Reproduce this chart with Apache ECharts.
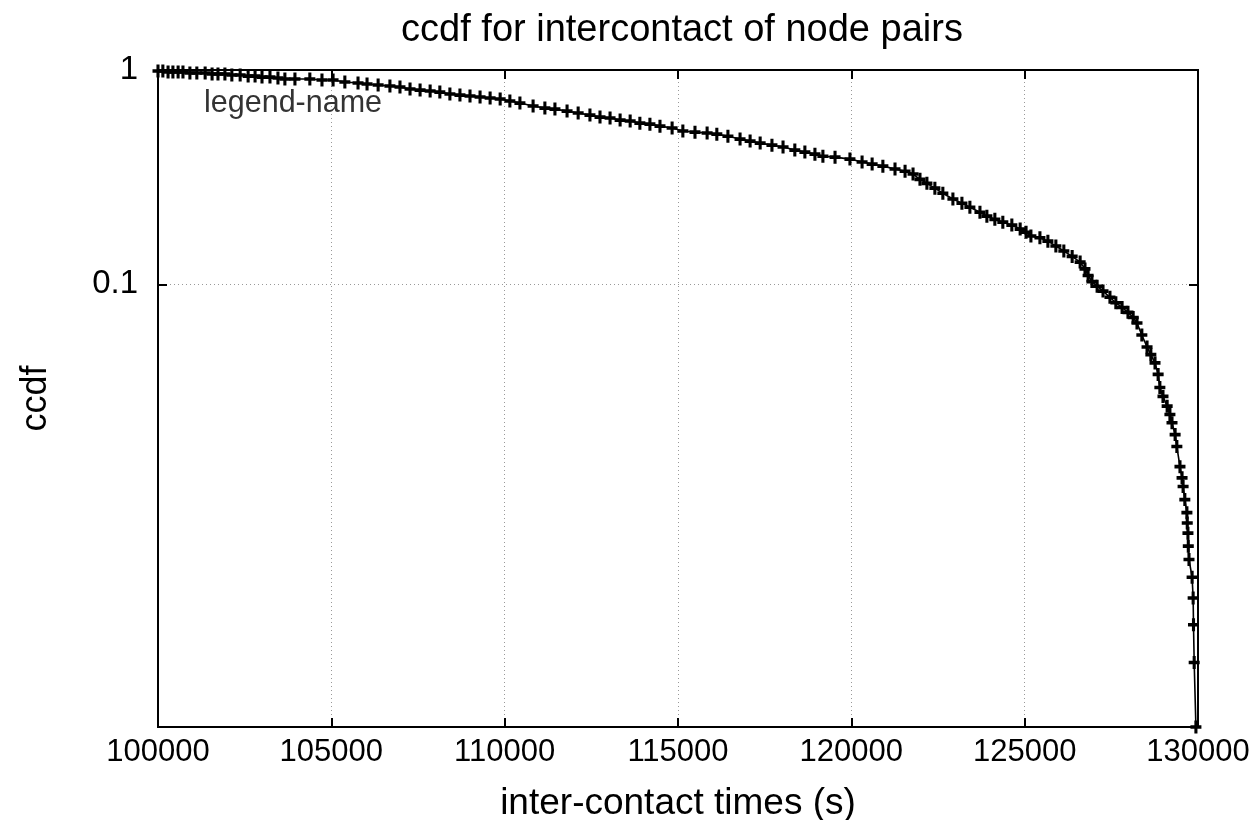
<!DOCTYPE html>
<html>
<head>
<meta charset="utf-8">
<script src="https://cdn.jsdelivr.net/npm/echarts@6/dist/echarts.min.js"></script>
<style>html,body{margin:0;padding:0;background:#fff;}#chart{width:1257px;height:820px;}</style>
</head>
<body>
<div id="chart"></div>
<script>
// inter-contact times (s)
const times = [
100000,100140,100290,100430,100580,100720,100920,101120,101360,101560,
101730,101930,102130,102370,102600,102800,103000,103230,103460,103660,
103950,104380,104730,105050,105390,105770,106030,106350,106690,106980,
107270,107560,107850,108130,108420,108710,109000,109290,109580,109870,
110150,110440,110820,111160,111450,111800,112120,112460,112750,113040,
113330,113620,113900,114190,114480,114830,115140,115490,115840,116120,
116440,116790,117080,117370,117710,118030,118370,118660,118950,119180,
119530,119960,120310,120600,120910,121260,121550,121780,121980,122180,
122410,122640,122930,123190,123420,123710,123910,124140,124370,124630,
124870,125040,125180,125440,125670,125900,126130,126370,126600,126740,
126830,126940,127090,127260,127460,127630,127810,127980,128130,128240,
128380,128530,128640,128760,128850,128900,128990,129110,129190,129250,
129340,129390,129480,129540,129570,129620,129680,129690,129710,129720,
129740,129830,129860,129870,129890,129940
];
// ccdf values
const ccdf = [
0.989,0.989,0.979,0.979,0.979,0.979,0.968,0.968,0.968,0.958,
0.958,0.958,0.948,0.948,0.937,0.937,0.927,0.927,0.918,0.908,
0.908,0.908,0.898,0.898,0.879,0.870,0.860,0.851,0.842,0.833,
0.815,0.806,0.798,0.789,0.773,0.764,0.756,0.748,0.740,0.732,
0.717,0.701,0.679,0.664,0.657,0.643,0.630,0.616,0.603,0.597,
0.584,0.578,0.565,0.559,0.547,0.536,0.519,0.513,0.508,0.502,
0.491,0.476,0.466,0.456,0.446,0.437,0.423,0.414,0.405,0.396,
0.392,0.384,0.372,0.364,0.356,0.345,0.337,0.327,0.309,0.296,
0.281,0.266,0.250,0.239,0.229,0.217,0.208,0.201,0.195,0.189,
0.181,0.175,0.168,0.165,0.159,0.151,0.143,0.135,0.127,0.118,
0.110,0.103,0.098,0.093,0.087,0.082,0.078,0.074,0.070,0.066,
0.058,0.051,0.047,0.043,0.038,0.033,0.030,0.027,0.0247,0.0226,
0.0199,0.0175,0.0141,0.0125,0.0114,0.0099,0.0086,0.0077,0.0069,0.0060,
0.0052,0.0043,0.00344,0.00258,0.00172,0.00086
];
const xTicks = [100000,105000,110000,115000,120000,125000,130000];
const yTicks = [0.1, 1];
const yTickLabels = ['0.1', '1'];
const seriesName = 'legend-name';

const points = times.map((t, i) => [t, ccdf[i]]);
const FONT = '"Liberation Sans", Arial, sans-serif';
const plus = 'path://M3.6,0h2.8v10h-2.8zM0,3.6h10v2.8h-10z';

const xCommon = {
  type: 'value', min: xTicks[0], max: xTicks[xTicks.length - 1], interval: xTicks[1] - xTicks[0],
  axisLine: { show: true, lineStyle: { color: '#000', width: 2 } },
  axisTick: { show: true, inside: true, length: 9, lineStyle: { color: '#000', width: 2 } }
};
const yCommon = {
  type: 'log', logBase: 10, min: 0.00086, max: 1,
  axisLine: { show: true, lineStyle: { color: '#000', width: 2 } },
  axisTick: { show: true, inside: true, length: 9, customValues: yTicks, lineStyle: { color: '#000', width: 2 } },
  minorTick: { show: false }
};

const chart = echarts.init(document.getElementById('chart'), null, { renderer: 'canvas' });
chart.setOption({
  backgroundColor: '#fff',
  animation: false,
  title: {
    text: 'ccdf for intercontact of node pairs',
    left: 677, top: 7, textAlign: 'center',
    textStyle: { fontFamily: FONT, fontSize: 38, fontWeight: 'normal', color: '#000' }
  },
  legend: {
    data: [seriesName], left: 193, top: 83, itemWidth: 0, itemHeight: 0, itemGap: 0,
    textStyle: { fontFamily: FONT, fontSize: 30.5, color: '#333' }
  },
  grid: { left: 158, right: 59, top: 70, bottom: 93, show: true, borderColor: '#000', borderWidth: 2,
    containLabel: false, outerBoundsMode: 'none' },
  xAxis: [
    Object.assign({}, xCommon, {
      position: 'bottom',
      name: 'inter-contact times (s)', nameLocation: 'middle', nameGap: 58,
      nameTextStyle: { fontFamily: FONT, fontSize: 37, color: '#000' },
      axisLabel: { show: true, margin: 10, fontFamily: FONT, fontSize: 31, color: '#000',
        formatter: v => String(v) },
      splitLine: { show: true, lineStyle: { color: '#999', type: [1, 3], width: 1 } }
    }),
    Object.assign({}, xCommon, {
      position: 'top', axisLabel: { show: false }, splitLine: { show: false }
    })
  ],
  yAxis: [
    Object.assign({}, yCommon, {
      position: 'left',
      name: 'ccdf', nameLocation: 'middle', nameGap: 104, nameRotate: 90,
      nameTextStyle: { fontFamily: FONT, fontSize: 36, color: '#000' },
      axisLabel: { show: true, margin: 20, customValues: yTicks, fontFamily: FONT, fontSize: 33, color: '#000',
        formatter: v => (v >= 0.99 ? yTickLabels[1] : yTickLabels[0]) },
      splitLine: { show: true, lineStyle: { color: '#999', type: [1, 3], width: 1 } }
    }),
    Object.assign({}, yCommon, {
      position: 'right', axisLabel: { show: false }, splitLine: { show: false }
    })
  ],
  series: [{
    name: seriesName,
    type: 'line',
    data: points,
    showSymbol: true,
    showAllSymbol: true,
    symbol: plus,
    symbolSize: [11, 13],
    itemStyle: { color: '#000' },
    lineStyle: { color: '#000', width: 1.6 },
    emphasis: { disabled: true },
    clip: false
  }]
});
</script>
</body>
</html>
